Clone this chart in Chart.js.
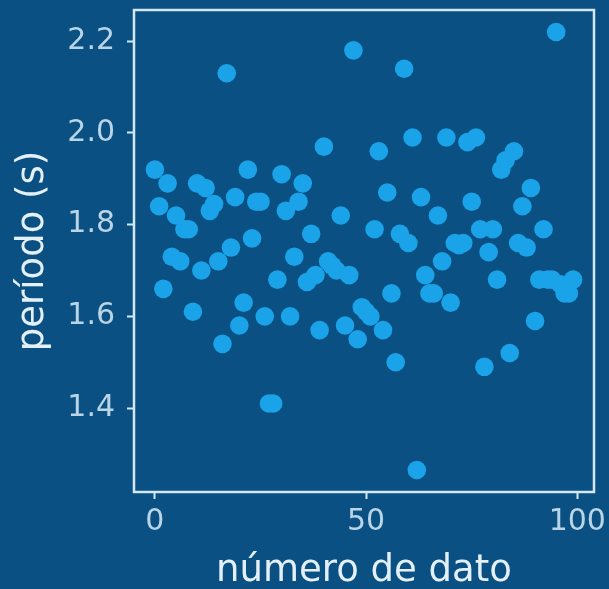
<!DOCTYPE html>
<html>
<head>
<meta charset="utf-8">
<script src="https://cdn.jsdelivr.net/npm/chart.js@4.4.1/dist/chart.umd.min.js"></script>
<style>
  html, body { margin: 0; padding: 0; background: #0a5082; }
  #wrap { width: 609px; height: 589px; }
</style>
</head>
<body>
<div id="wrap"><canvas id="c" width="609" height="589"></canvas></div>
<script>
// periodo medido para cada numero de dato (0..99)
const periods = [
  1.92, 1.84, 1.66, 1.89, 1.73, 1.82, 1.72, 1.79, 1.79, 1.61,
  1.89, 1.70, 1.88, 1.83, 1.845, 1.72, 1.54, 2.13, 1.75, 1.86,
  1.58, 1.63, 1.92, 1.77, 1.85, 1.85, 1.60, 1.41, 1.41, 1.68,
  1.91, 1.83, 1.60, 1.73, 1.85, 1.89, 1.675, 1.78, 1.69, 1.57,
  1.97, 1.72, 1.71, 1.70, 1.82, 1.58, 1.69, 2.18, 1.55, 1.62,
  1.61, 1.60, 1.79, 1.96, 1.57, 1.87, 1.65, 1.50, 1.78, 2.14,
  1.76, 1.99, 1.265, 1.86, 1.69, 1.65, 1.65, 1.82, 1.72, 1.99,
  1.63, 1.76, 1.755, 1.76, 1.98, 1.85, 1.99, 1.79, 1.49, 1.74,
  1.79, 1.68, 1.92, 1.94, 1.52, 1.96, 1.76, 1.84, 1.75, 1.88,
  1.59, 1.68, 1.79, 1.68, 1.68, 2.22, 1.67, 1.65, 1.65, 1.68
];
const xTicks = [0, 50, 100];
const yTicks = [1.4, 1.6, 1.8, 2.0, 2.2];

const frameColor = '#d3e8f4';
const tickText = '#b8d4e6';
const titleText = '#e4f0f7';
const font = 'DejaVu Sans';

const framePlugin = {
  id: 'frame',
  beforeDraw(chart) {
    const ctx = chart.ctx;
    ctx.save();
    ctx.fillStyle = '#0a5082';
    ctx.fillRect(0, 0, chart.width, chart.height);
    ctx.restore();
  },
  afterDatasetsDraw(chart) {
    const { left, right, top, bottom } = chart.chartArea;
    const ctx = chart.ctx;
    ctx.save();
    ctx.strokeStyle = frameColor;
    ctx.lineWidth = 2.5;
    ctx.strokeRect(left, top, right - left, bottom - top);
    ctx.restore();
  }
};

new Chart(document.getElementById('c'), {
  type: 'scatter',
  data: {
    datasets: [{
      data: periods.map((p, i) => ({ x: i, y: p })),
      backgroundColor: '#1aa3e8',
      borderWidth: 0,
      pointRadius: 9.3,
      pointHoverRadius: 9.3
    }]
  },
  options: {
    responsive: false,
    animation: false,
    layout: { padding: { left: 0, right: 15, top: 10, bottom: 0 } },
    plugins: { legend: { display: false }, tooltip: { enabled: false } },
    scales: {
      x: {
        type: 'linear',
        min: -4.95,
        max: 103.95,
        afterBuildTicks: s => { s.ticks = xTicks.map(v => ({ value: v })); },
        afterFit: s => { s.height = 97; s.paddingLeft = 0; s.paddingRight = 0; },
        grid: { drawOnChartArea: false, drawTicks: true, tickLength: 7, tickWidth: 2, tickColor: frameColor },
        border: { display: false },
        ticks: { color: tickText, font: { family: font, size: 30 }, padding: 5, maxRotation: 0 },
        title: { display: true, text: 'número de dato', color: titleText, font: { family: font, size: 37, lineHeight: 0.95 }, padding: { top: 0, bottom: 0 } }
      },
      y: {
        type: 'linear',
        min: 1.217,
        max: 2.268,
        afterBuildTicks: s => { s.ticks = yTicks.map(v => ({ value: v })); },
        afterFit: s => { s.width = 134; s.paddingTop = 0; s.paddingBottom = 0; },
        grid: { drawOnChartArea: false, drawTicks: true, tickLength: 7, tickWidth: 2, tickColor: frameColor },
        border: { display: false },
        ticks: { color: tickText, font: { family: font, size: 30 }, padding: 12, callback: v => v.toFixed(1) },
        title: { display: true, text: 'período (s)', color: titleText, font: { family: font, size: 37 }, padding: { top: 11, bottom: 0 } }
      }
    }
  },
  plugins: [framePlugin]
});
</script>
</body>
</html>
